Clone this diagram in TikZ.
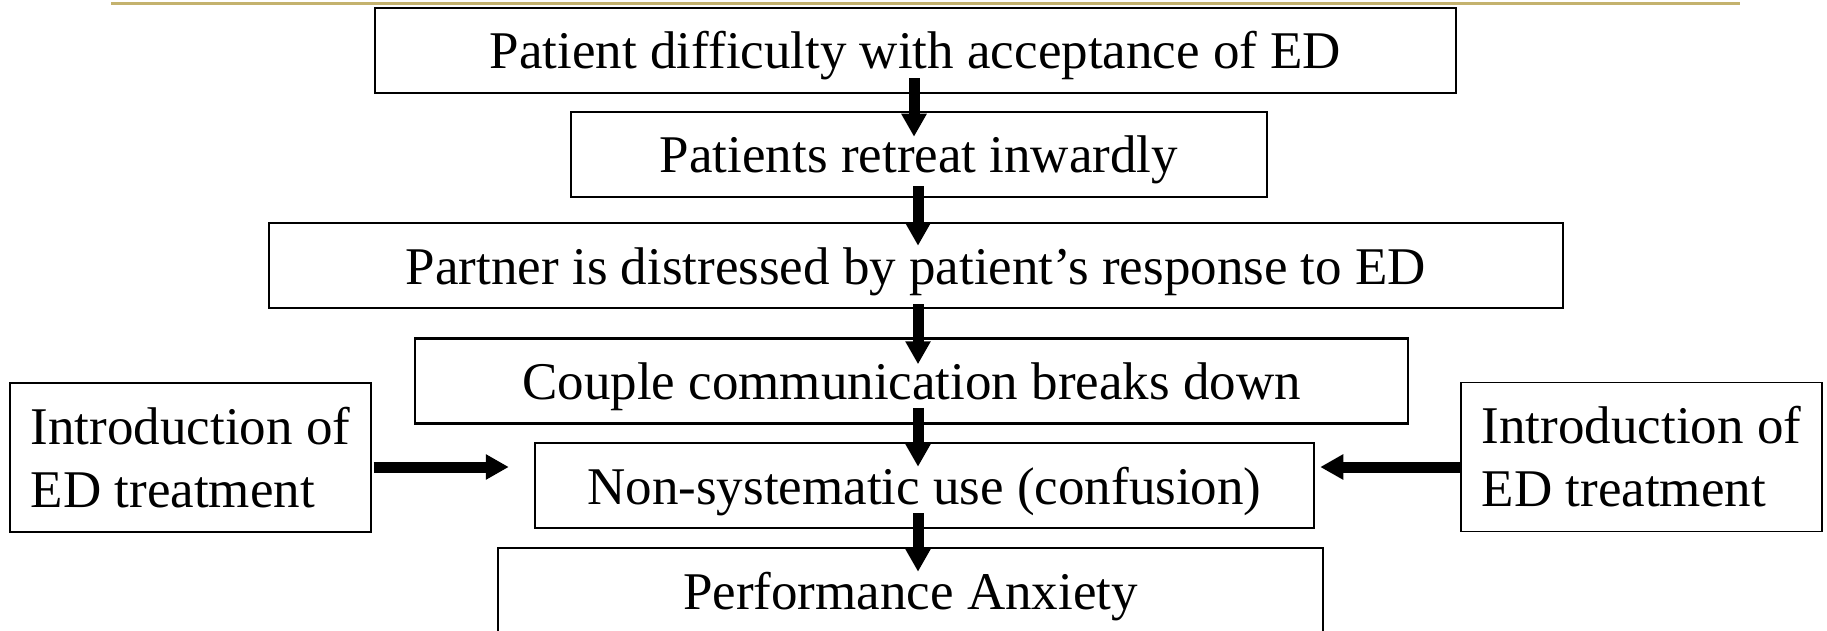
\documentclass[tikz,border=0pt]{standalone}
\usepackage{fontspec}
\setmainfont{Liberation Serif}
\usetikzlibrary{arrows.meta,calc}
\definecolor{rulegold}{RGB}{196,178,110}
\begin{document}
\begin{tikzpicture}[x=1pt,y=-1pt,
  bigfont/.style={font=\fontsize{53}{63}\selectfont},
  stepbox/.style={draw, line width=2.5pt, bigfont, inner xsep=0pt, inner ysep=0pt,
    text height=44pt, text depth=7pt, minimum height=85pt},
  sidebox/.style={draw, line width=1.3pt, bigfont, align=left,
    inner xsep=19.5pt, inner ysep=0pt, minimum width=361pt, minimum height=149pt},
  flow/.style={line width=11pt, -{Triangle[width=24pt,length=23pt]}}]
\clip (0,0) rectangle (1827,631);
% header rule
\draw[rulegold, line width=3pt] (111,3.5) -- (1740,3.5);
% main chain
\node[stepbox, minimum width=1081pt] (b1) at (915.5,50.5) {Patient difficulty with acceptance of ED};
\node[stepbox, minimum width=696pt]  (b2) at (919,154.5) {Patients retreat inwardly};
\node[stepbox, minimum width=1294pt] (b3) at (916,265.5) {Partner is distressed by patient’s response to ED};
\node[stepbox, minimum width=993pt]  (b4) at (911.5,381) {Couple communication breaks down};
\node[stepbox, minimum width=779pt]  (b5) at (924.5,485.5) {Non-systematic use (confusion)};
\node[stepbox, minimum width=825pt]  (b6) at (910.5,590.5) {Performance Anxiety};
% side inputs
\node[sidebox] (sl) at (190.5,457.5) {Introduction of\\ED treatment};
\node[sidebox] (sr) at (1641.5,457) {Introduction of\\ED treatment};
% arrows down the chain
\draw[flow] ($(b1.south)+(-1.5,-16)$) -- ($(b2.north)+(-5,26)$);
\draw[flow] ($(b2.south)+(-1,-12)$) -- ($(b3.north)+(2,24)$);
\draw[flow] ($(b3.south)+(2,-5)$) -- ($(b4.north)+(6.5,27)$);
\draw[flow] ($(b4.south)+(6.5,-17)$) -- ($(b5.north)+(-6.5,25)$);
\draw[flow] ($(b5.south)+(-6.5,-16)$) -- ($(b6.north)+(7.5,25)$);
% arrows from the side boxes
\draw[flow] ($(sl.east)+(2,9.5)$) -- ($(b5.west)+(-25,-18.5)$);
\draw[flow] ($(sr.west)+(0,10)$) -- ($(b5.east)+(5,-18.5)$);
\end{tikzpicture}
\end{document}
